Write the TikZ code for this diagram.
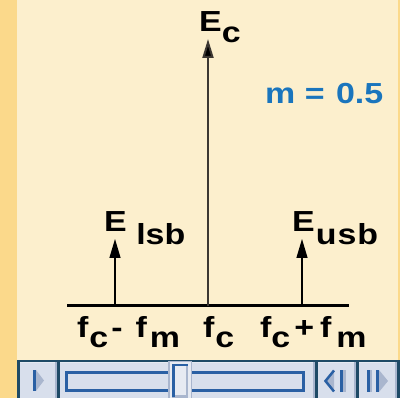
\documentclass[tikz,border=0pt]{standalone}
\usepackage{fontspec}
\setmainfont{Liberation Sans}[FakeStretch=1.17]
\usetikzlibrary{arrows.meta,positioning}
\definecolor{papir}{HTML}{FCEFCD}
\definecolor{szegely}{HTML}{FBD98B}
\definecolor{kek}{HTML}{1A75BD}
\definecolor{keret}{HTML}{1E4A66}
\definecolor{gomb}{HTML}{D8DFEC}
\definecolor{gombvil}{HTML}{E6EAF2}
\definecolor{gombarny}{HTML}{A9B6CE}
\definecolor{sbkek}{HTML}{2A60A4}
\newcommand{\low}[2][10pt]{\raisebox{-#1}{#2}}
\tikzset{
  felirat/.style={inner sep=0pt,anchor=base west,font=\fontsize{29}{32}\selectfont\bfseries},
  tengely/.style={line width=3pt},
  vivo/.style={line width=2pt,draw={rgb,255:red,60;green,55;blue,50},
    -{Triangle[length=19pt,width=11pt,fill=black]}},
  oldal/.style={line width=1.4pt,-{Triangle[length=19pt,width=11pt]}},
}

\begin{document}
\begin{tikzpicture}[x=1pt,y=-1pt]
  \useasboundingbox (0,0) rectangle (400,398);
  \fill[papir] (0,0) rectangle (400,398);
  \fill[szegely] (0,0) rectangle (17,398);
  \fill[szegely] (398,0) rectangle (400,360);
  % spectrum
  \coordinate (bal) at (67,306);
  \coordinate (jobb) at (349,306);
  \coordinate (lsb0) at (115,306);  \coordinate (lsb1) at (115,239);
  \coordinate (c0) at (208,306);    \coordinate (c1) at (208,39);
  \coordinate (usb0) at (302,306);  \coordinate (usb1) at (302,239);
  \draw[tengely] (bal) -- (jobb);
  \draw[vivo] (c0) -- (c1);
  \draw[oldal] (lsb0) -- (lsb1);
  \draw[oldal] (usb0) -- (usb1);
  \node[felirat] (Ec) at (199,32) {E\low[11pt]{c}};
  \node[felirat] (Elsb) at (104,232) {E \low[13pt]{lsb}};
  \node[felirat] (Eusb) at (292,232) {E\kern1pt\low[13pt]{u\kern1pt s\kern1pt b}};
  \node[felirat,text=kek] (modidx) at (265,104) {m = \hspace{2pt}0.5};
  \node[felirat] (fa) at (77,338) {f\kern1pt\low{c}\kern3pt-\kern13pt f\kern3pt\low{m}};
  \node[felirat] (fb) at (203,338) {f\kern1pt\low{c}};
  \node[felirat] (fc) at (260,338) {f\low{c}\kern4pt+\kern6pt f\kern5pt\low{m}};
  % scroll bar
  \fill[keret] (17,360) rectangle (400,398);
  \foreach \xa/\xb in {20/57,60/315,318/356,359/397}{
    \fill[gomb] (\xa,362) rectangle (\xb,398);
    \fill[gombvil] (\xa,362) rectangle (\xb,363.5);
    \fill[gombarny] (\xb-2.5,362) rectangle (\xb,398);
  }
  \draw[sbkek,line width=3pt] (66.5,372.5) rectangle (303.5,390.5);
  \fill[gombvil] (168,361) rectangle (192,398);
  \draw[gombarny,line width=1.5pt] (168.75,398) -- (168.75,361.75) -- (191.25,361.75) -- (191.25,398);
  \draw[gombarny,line width=2.5pt] (186.75,364) -- (186.75,396.75) -- (172,396.75);
  \draw[sbkek,line width=2.5pt] (173.25,397) -- (173.25,365.25) -- (188,365.25);
  % buttons
  \fill[sbkek] (33,370) rectangle (36,391);
  \fill[gombarny] (36,370) -- (44,380.5) -- (36,391) -- cycle;
  \fill[gombarny] (324,381) -- (334,370) -- (334,392) -- cycle;
  \draw[sbkek,line width=2.5pt] (334,370.5) -- (325.5,381) -- (334,391.5);
  \fill[sbkek] (340,370) rectangle (343,392);
  \fill[gombarny] (343,370) rectangle (345.5,392);
  \fill[sbkek] (367,370) rectangle (370,392);
  \fill[gombarny] (370,370) rectangle (372,392);
  \fill[sbkek] (376,370) rectangle (379,392);
  \fill[gombarny] (379,370) -- (388,381) -- (379,392) -- cycle;
\end{tikzpicture}
\end{document}
